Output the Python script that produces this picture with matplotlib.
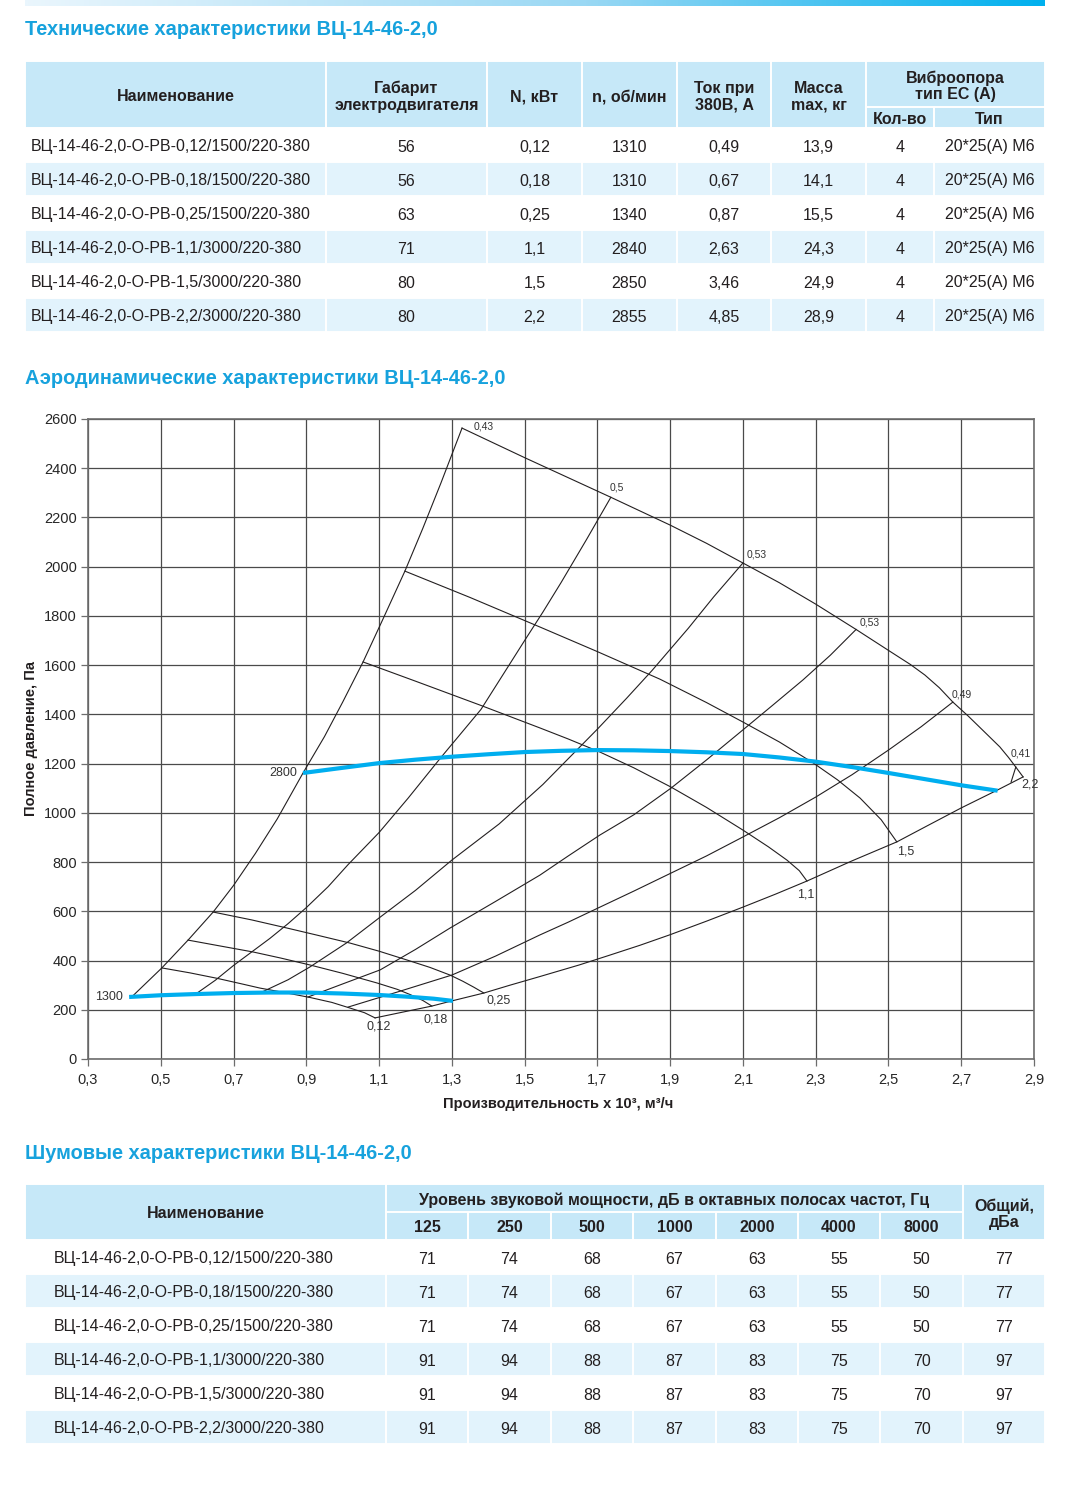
import numpy as np
import matplotlib
matplotlib.use("Agg")
import matplotlib.pyplot as plt
from matplotlib.colors import LinearSegmentedColormap
from matplotlib.patches import Rectangle

plt.rcParams["font.family"] = ["Liberation Sans", "DejaVu Sans"]

W, H = 1071, 1492
TITLE_BLUE = "#17a2dd"
HEADER_BG = "#c6e8f8"
STRIPE_BG = "#e2f3fc"
TEXT = "#231f20"
CURVE_BLUE = "#00aeef"
FS = 11.5

# ---- technical table ----
MODEL_NAMES = [
    "ВЦ-14-46-2,0-О-РВ-0,12/1500/220-380",
    "ВЦ-14-46-2,0-О-РВ-0,18/1500/220-380",
    "ВЦ-14-46-2,0-О-РВ-0,25/1500/220-380",
    "ВЦ-14-46-2,0-О-РВ-1,1/3000/220-380",
    "ВЦ-14-46-2,0-О-РВ-1,5/3000/220-380",
    "ВЦ-14-46-2,0-О-РВ-2,2/3000/220-380",
]
TECH_FRAME = [56, 56, 63, 71, 80, 80]
TECH_POWER_KW = [0.12, 0.18, 0.25, 1.1, 1.5, 2.2]
TECH_RPM = [1310, 1310, 1340, 2840, 2850, 2855]
TECH_CURRENT_A = [0.49, 0.67, 0.87, 2.63, 3.46, 4.85]
TECH_MASS_KG = [13.9, 14.1, 15.5, 24.3, 24.9, 28.9]
TECH_MOUNT_COUNT = [4, 4, 4, 4, 4, 4]
TECH_MOUNT_TYPE = ["20*25(A) M6", "20*25(A) M6", "20*25(A) M6", "20*25(A) M6", "20*25(A) M6", "20*25(A) M6"]
TECH_HEADERS = ["Наименование", "Габарит\nэлектродвигателя", "N, кВт", "n, об/мин", "Ток при\n380В, А", "Масса\nmax, кг"]

# ---- noise table ----
NOISE_BANDS_HZ = [125, 250, 500, 1000, 2000, 4000, 8000]
NOISE_LEVELS = [
    [71, 74, 68, 67, 63, 55, 50],
    [71, 74, 68, 67, 63, 55, 50],
    [71, 74, 68, 67, 63, 55, 50],
    [91, 94, 88, 87, 83, 75, 70],
    [91, 94, 88, 87, 83, 75, 70],
    [91, 94, 88, 87, 83, 75, 70],
]
NOISE_TOTAL = [77, 77, 77, 97, 97, 97]

# ---- aerodynamic chart (Q x10^3 m3/h, P Pa) ----
RAY1_Q = [0.42, 0.503, 0.575, 0.644, 0.70, 0.76, 0.82, 0.891, 0.95, 1.0, 1.056, 1.11, 1.171, 1.22, 1.27, 1.328]
RAY1_P = [252, 370, 483, 597, 705, 835, 975, 1162, 1310, 1450, 1613, 1785, 1982, 2155, 2340, 2563]
RAY2_Q = [0.60, 0.65, 0.70, 0.75, 0.80, 0.85, 0.90, 0.96, 1.015, 1.10, 1.18, 1.27, 1.38, 1.44, 1.50, 1.55, 1.60, 1.67, 1.737]
RAY2_P = [268, 320, 380, 435, 490, 550, 615, 700, 790, 920, 1060, 1225, 1420, 1560, 1700, 1815, 1935, 2110, 2282]
RAY3_Q = [0.778, 0.85, 0.91, 1.01, 1.10, 1.20, 1.30, 1.43, 1.55, 1.62, 1.70, 1.78, 1.85, 1.95, 2.02, 2.10]
RAY3_P = [272, 322, 374, 471, 573, 685, 808, 955, 1115, 1220, 1340, 1465, 1578, 1750, 1878, 2015]
RAY4_Q = [0.905, 1.0, 1.103, 1.2, 1.295, 1.42, 1.542, 1.62, 1.707, 1.80, 1.902, 2.0, 2.10, 2.18, 2.265, 2.34, 2.411]
RAY4_P = [252, 305, 362, 445, 532, 640, 747, 825, 910, 992, 1100, 1215, 1337, 1435, 1540, 1640, 1745]
RAY5_Q = [1.015, 1.15, 1.30, 1.42, 1.542, 1.62, 1.707, 1.80, 1.902, 2.0, 2.10, 2.20, 2.30, 2.40, 2.50, 2.59, 2.677]
RAY5_P = [211, 272, 341, 418, 504, 556, 617, 682, 755, 825, 902, 980, 1064, 1155, 1255, 1350, 1450]
RAY6_Q = [2.837, 2.850]
RAY6_P = [1125, 1186]
EFFICIENCY_LABELS = ["0,43", "0,5", "0,53", "0,53", "0,49", "0,41"]

BOTTOM_Q = [1.089, 1.17, 1.245, 1.30, 1.388, 1.46, 1.542, 1.65, 1.73, 1.817, 1.90, 2.0, 2.10, 2.19, 2.276,
            2.40, 2.523, 2.61, 2.70, 2.80, 2.870]
BOTTOM_P = [167, 192, 215, 236, 268, 300, 335, 382, 420, 462, 505, 560, 617, 670, 723,
            805, 882, 950, 1020, 1093, 1146]

M012_Q = [0.503, 0.58, 0.654, 0.72, 0.773, 0.84, 0.91, 0.97, 1.02, 1.06, 1.089]
M012_P = [370, 350, 328, 306, 288, 270, 250, 230, 207, 188, 167]
M018_Q = [0.575, 0.66, 0.753, 0.83, 0.910, 1.0, 1.094, 1.15, 1.185, 1.22, 1.245]
M018_P = [483, 460, 435, 410, 382, 348, 309, 283, 262, 238, 215]
M025_Q = [0.644, 0.75, 0.847, 0.93, 1.02, 1.10, 1.177, 1.24, 1.295, 1.33, 1.36, 1.388]
M025_P = [597, 565, 532, 503, 471, 438, 402, 372, 341, 316, 292, 268]
M11_Q = [1.056, 1.2, 1.377, 1.542, 1.62, 1.707, 1.80, 1.902, 2.0, 2.10, 2.17, 2.221, 2.255, 2.276]
M11_P = [1613, 1535, 1438, 1345, 1300, 1247, 1183, 1105, 1022, 930, 862, 808, 765, 723]
M15_Q = [1.171, 1.35, 1.542, 1.70, 1.872, 2.0, 2.10, 2.20, 2.293, 2.36, 2.422, 2.48, 2.523]
M15_P = [1982, 1875, 1755, 1655, 1543, 1448, 1369, 1288, 1203, 1134, 1060, 972, 882]
M22_Q = [1.328, 1.5, 1.737, 1.9, 2.0, 2.10, 2.20, 2.30, 2.411, 2.50, 2.56, 2.60, 2.64, 2.677,
         2.72, 2.77, 2.806, 2.83, 2.85, 2.870]
M22_P = [2563, 2443, 2282, 2169, 2095, 2015, 1935, 1848, 1745, 1660, 1603, 1560, 1508, 1450,
         1392, 1320, 1268, 1225, 1186, 1146]
POWER_LABELS_LOW = ["0,12", "0,18", "0,25"]
POWER_LABELS_HIGH = ["1,1", "1,5", "2,2"]

RPM1300_Q = [0.413, 0.50, 0.60, 0.70, 0.80, 0.90, 1.00, 1.10, 1.18, 1.25, 1.303]
RPM1300_P = [252, 259, 264, 268, 270, 270, 266, 260, 253, 245, 236]
RPM2800_Q = [0.891, 1.0, 1.1, 1.2, 1.3, 1.4, 1.5, 1.6, 1.7, 1.8, 1.9, 2.0, 2.1, 2.2, 2.3, 2.4, 2.5, 2.6, 2.7, 2.80]
RPM2800_P = [1162, 1183, 1202, 1216, 1228, 1238, 1247, 1252, 1255, 1254, 1251, 1246, 1239, 1225, 1208,
             1186, 1162, 1137, 1112, 1090]
SPEED_LABELS = ["1300", "2800"]

X_TICKS = [0.3, 0.5, 0.7, 0.9, 1.1, 1.3, 1.5, 1.7, 1.9, 2.1, 2.3, 2.5, 2.7, 2.9]
Y_TICKS = [0, 200, 400, 600, 800, 1000, 1200, 1400, 1600, 1800, 2000, 2200, 2400, 2600]


def comma(value) -> str:
    return f"{value:g}".replace(".", ",")


def cell(page, x0, x1, y0, y1, color):
    page.add_patch(Rectangle((x0, y0), x1 - x0, y1 - y0, facecolor=color, edgecolor="white", linewidth=1.4))


def put(page, x, y, text, ha="center", bold=False, **kw):
    # +2 px: matplotlib centres the box including descent, the source centres the glyphs
    page.text(x, y + 2, text, ha=ha, va="center", fontsize=FS, color=TEXT,
              fontweight="bold" if bold else "normal", **kw)


def section_title(page, y, text):
    page.text(25, y, text, color=TITLE_BLUE, fontsize=14.4, fontweight="bold", ha="left", va="baseline")


def draw_tech_table(page):
    edges = [25, 326, 487, 582, 677, 771, 866, 934, 1045]
    top, split, bottom, row_h = 61, 107, 128, 34
    for i, label in enumerate(TECH_HEADERS):
        cell(page, edges[i], edges[i + 1], top, bottom, HEADER_BG)
        put(page, (edges[i] + edges[i + 1]) / 2, (top + bottom) / 2, label, bold=True, linespacing=1.15)
    cell(page, edges[6], edges[8], top, split, HEADER_BG)
    put(page, (edges[6] + edges[8]) / 2, (top + split) / 2, "Виброопора\nтип ЕС (А)", bold=True, linespacing=1.1)
    for j, label in enumerate(["Кол-во", "Тип"]):
        cell(page, edges[6 + j], edges[7 + j], split, bottom, HEADER_BG)
        put(page, (edges[6 + j] + edges[7 + j]) / 2, (split + bottom) / 2, label, bold=True)

    for r, name in enumerate(MODEL_NAMES):
        y0 = bottom + r * row_h
        color = STRIPE_BG if r % 2 else "white"
        values = [TECH_FRAME[r], comma(TECH_POWER_KW[r]), TECH_RPM[r], comma(TECH_CURRENT_A[r]),
                  comma(TECH_MASS_KG[r]), TECH_MOUNT_COUNT[r], TECH_MOUNT_TYPE[r]]
        for c in range(len(edges) - 1):
            cell(page, edges[c], edges[c + 1], y0, y0 + row_h, color)
        yc = y0 + row_h / 2
        put(page, 31, yc, name, ha="left")
        for c, value in enumerate(values, start=1):
            put(page, (edges[c] + edges[c + 1]) / 2, yc, str(value))


def draw_noise_table(page):
    edges = [25, 386, 468, 551, 633, 716, 798, 880, 963, 1045]
    top, split, bottom, row_h = 1184, 1212, 1240, 34
    cell(page, edges[0], edges[1], top, bottom, HEADER_BG)
    put(page, (edges[0] + edges[1]) / 2, (top + bottom) / 2, "Наименование", bold=True)
    cell(page, edges[1], edges[8], top, split, HEADER_BG)
    put(page, (edges[1] + edges[8]) / 2, (top + split) / 2,
        "Уровень звуковой мощности, дБ в октавных полосах частот, Гц", bold=True)
    for i, band in enumerate(NOISE_BANDS_HZ):
        cell(page, edges[1 + i], edges[2 + i], split, bottom, HEADER_BG)
        put(page, (edges[1 + i] + edges[2 + i]) / 2, (split + bottom) / 2, str(band), bold=True)
    cell(page, edges[8], edges[9], top, bottom, HEADER_BG)
    put(page, (edges[8] + edges[9]) / 2, (top + bottom) / 2, "Общий,\nдБа", bold=True, linespacing=1.1)

    for r, name in enumerate(MODEL_NAMES):
        y0 = bottom + r * row_h
        color = STRIPE_BG if r % 2 else "white"
        for c in range(len(edges) - 1):
            cell(page, edges[c], edges[c + 1], y0, y0 + row_h, color)
        yc = y0 + row_h / 2
        put(page, 54, yc, name, ha="left")
        for c, value in enumerate(NOISE_LEVELS[r] + [NOISE_TOTAL[r]], start=1):
            put(page, (edges[c] + edges[c + 1]) / 2, yc, str(value))


def draw_chart(fig, page):
    ax = fig.add_axes([88 / W, 1 - 1059 / H, 946 / W, 640 / H])
    black = dict(color=TEXT, linewidth=0.8, solid_joinstyle="round")
    rays = [(RAY1_Q, RAY1_P), (RAY2_Q, RAY2_P), (RAY3_Q, RAY3_P), (RAY4_Q, RAY4_P), (RAY5_Q, RAY5_P), (RAY6_Q, RAY6_P)]
    for q, p in rays + [(BOTTOM_Q, BOTTOM_P)]:
        ax.plot(q, p, **black)
    low = [(M012_Q, M012_P), (M018_Q, M018_P), (M025_Q, M025_P)]
    high = [(M11_Q, M11_P), (M15_Q, M15_P), (M22_Q, M22_P)]
    for q, p in low + high:
        ax.plot(q, p, **black)
    speeds = [(RPM1300_Q, RPM1300_P), (RPM2800_Q, RPM2800_P)]
    for q, p in speeds:
        ax.plot(q, p, color=CURVE_BLUE, linewidth=3.0, solid_capstyle="butt", zorder=3)

    small = dict(textcoords="offset pixels", va="center", fontsize=7.5, color="#333333")
    eff_offsets = [(12, 2), (-1, 10), (4, 8), (4, 7), (-1, 8), (-5, 14)]
    for (q, p), label, off in zip(rays, EFFICIENCY_LABELS, eff_offsets):
        ax.annotate(label, (q[-1], p[-1]), xytext=off, ha="left", **small)

    mid = dict(textcoords="offset pixels", va="center", fontsize=9, color="#333333")
    low_offsets = [(4, -9, "center"), (4, -13, "center"), (3, -7, "left")]
    for (q, p), label, (dx, dy, ha) in zip(low, POWER_LABELS_LOW, low_offsets):
        ax.annotate(label, (q[-1], p[-1]), xytext=(dx, dy), ha=ha, **mid)
    high_offsets = [(-1, -13, "center"), (0, -10, "left"), (-2, -8, "left")]
    for (q, p), label, (dx, dy, ha) in zip(high, POWER_LABELS_HIGH, high_offsets):
        ax.annotate(label, (q[-1], p[-1]), xytext=(dx, dy), ha=ha, **mid)
    for (q, p), label in zip(speeds, SPEED_LABELS):
        ax.annotate(label, (q[0], p[0]), xytext=(-6, 0), ha="right", **mid)

    ax.set_xlim(X_TICKS[0], X_TICKS[-1])
    ax.set_ylim(Y_TICKS[0], Y_TICKS[-1])
    ax.set_xticks(X_TICKS)
    ax.set_xticklabels([f"{v:.1f}".replace(".", ",") for v in X_TICKS])
    ax.set_yticks(Y_TICKS)
    ax.grid(True, color="#4a4a4a", linewidth=0.9)
    ax.set_axisbelow(True)
    for spine in ax.spines.values():
        spine.set_color("#6d6d6d")
        spine.set_linewidth(1.2)
    ax.tick_params(direction="out", length=5, width=0.9, color="#6d6d6d", labelsize=10.5,
                   labelcolor="#262626", pad=3)
    ax.tick_params(axis="x", pad=5)

    page.text(31, 739, "Полное давление, Па", rotation=90, ha="center", va="center",
              fontsize=10.5, fontweight="bold", color=TEXT)
    page.text(558, 1104, "Производительность х 10³, м³/ч", ha="center", va="center",
              fontsize=10.5, fontweight="bold", color=TEXT)


def main() -> None:
    fig = plt.figure(figsize=(W / 100, H / 100), dpi=100)
    page = fig.add_axes([0, 0, 1, 1])
    page.axis("off")

    bar_cmap = LinearSegmentedColormap.from_list("bar", [(0.0, "#eaf6fd"), (0.55, "#9ad8f4"), (1.0, "#00b0ee")])
    page.imshow(np.linspace(0, 1, 512)[None, :], extent=(25, 1045, 6, 0), aspect="auto", cmap=bar_cmap)
    page.set_xlim(0, W)
    page.set_ylim(H, 0)

    section_title(page, 35, "Технические характеристики ВЦ-14-46-2,0")
    draw_tech_table(page)
    section_title(page, 384, "Аэродинамические характеристики ВЦ-14-46-2,0")
    draw_chart(fig, page)
    section_title(page, 1159, "Шумовые характеристики ВЦ-14-46-2,0")
    draw_noise_table(page)

    fig.savefig("out.png", dpi=100)
    plt.close(fig)


if __name__ == "__main__":
    main()
